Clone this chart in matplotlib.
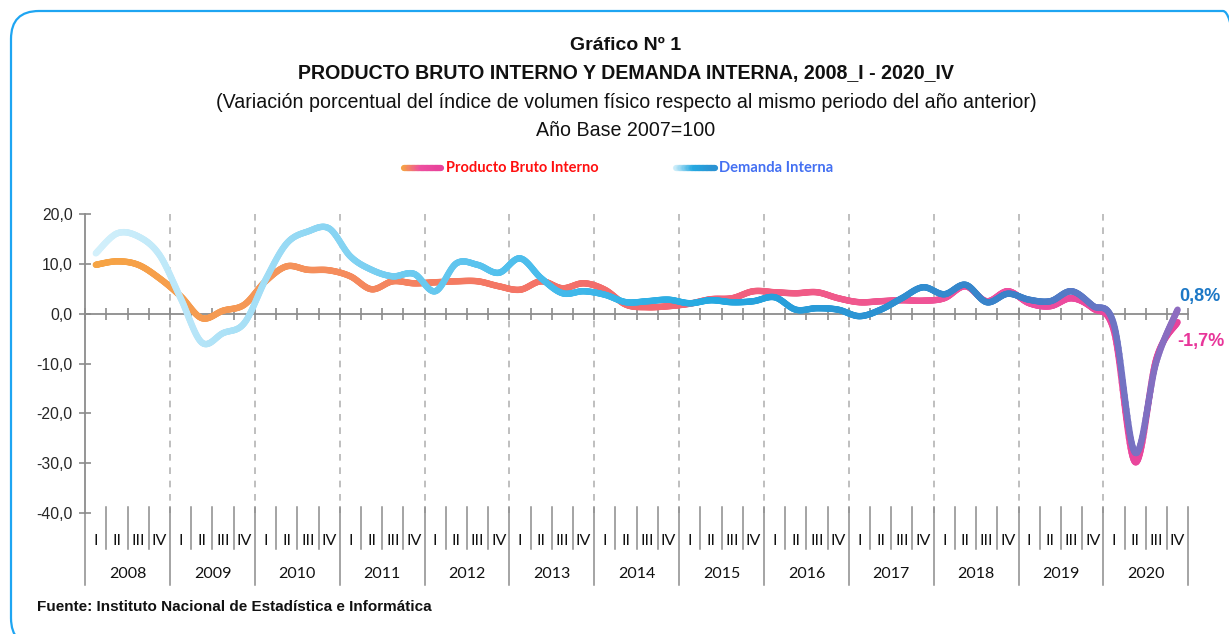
import numpy as np
import matplotlib.pyplot as plt
from matplotlib.collections import LineCollection
from matplotlib.colors import LinearSegmentedColormap
from matplotlib.patches import FancyBboxPatch
from matplotlib.transforms import IdentityTransform, blended_transform_factory

# datos trimestrales (variacion % respecto al mismo periodo del año anterior)
years = [str(y) for y in range(2008, 2021)]
quarters = ["I", "II", "III", "IV"]

pbi = [9.8, 10.5, 9.8, 7.1,
       3.5, -0.9, 0.6, 1.8,
       6.5, 9.5, 8.8, 8.7,
       7.5, 4.9, 6.5, 6.1,
       6.3, 6.5, 6.5, 5.5,
       4.8, 6.5, 5.1, 6.1,
       4.8, 1.8, 1.3, 1.5,
       2.0, 2.9, 3.1, 4.5,
       4.3, 4.1, 4.3, 3.1,
       2.3, 2.5, 2.7, 2.6,
       3.1, 5.5, 2.5, 4.5,
       2.1, 1.5, 3.1, 1.1,
       -3.5, -29.8, -9.0, -1.7]

demanda = [12.1, 16.1, 15.5, 11.8,
           3.1, -5.8, -3.9, -1.9,
           6.8, 14.1, 16.5, 17.1,
           11.5, 8.8, 7.5, 8.0,
           4.5, 10.1, 9.8, 8.2,
           11.1, 7.1, 4.1, 4.5,
           3.8, 2.3, 2.5, 2.8,
           2.1, 2.7, 2.3, 2.5,
           3.3, 0.8, 1.1, 0.8,
           -0.5, 0.8, 3.1, 5.3,
           3.9, 5.8, 2.3, 4.0,
           2.8, 2.5, 4.5, 1.6,
           -2.2, -27.9, -9.6, 0.8]

pbi_colors = ["#F6A443", "#F5955A", "#F47B62", "#F36A6E", "#F05A88", "#EE50A0", "#E8439B"]
dem_colors = ["#D3F0FB", "#A6DFF6", "#6ECBF0", "#44BAEB", "#25A9E1", "#2B93D3", "#3C80C8", "#8E6CC0"]


def smooth(x, y, n=24):
    # curva suavizada tipo Excel (bezier cardinal)
    x = np.asarray(x, float)
    y = np.asarray(y, float)
    px = np.concatenate([[x[0]], x, [x[-1]]])
    py = np.concatenate([[y[0]], y, [y[-1]]])
    xs, ys = [], []
    t = np.linspace(0, 1, n, endpoint=False)
    for i in range(1, len(px) - 2):
        p0 = np.array([px[i - 1], py[i - 1]])
        p1 = np.array([px[i], py[i]])
        p2 = np.array([px[i + 1], py[i + 1]])
        p3 = np.array([px[i + 2], py[i + 2]])
        c1 = p1 + (p2 - p0) / 6
        c2 = p2 - (p3 - p1) / 6
        b = ((1 - t) ** 3)[:, None] * p1 + (3 * (1 - t) ** 2 * t)[:, None] * c1 \
            + (3 * (1 - t) * t ** 2)[:, None] * c2 + (t ** 3)[:, None] * p2
        xs.append(b[:, 0])
        ys.append(b[:, 1])
    xs.append([x[-1]])
    ys.append([y[-1]])
    return np.concatenate(xs), np.concatenate(ys)


def gradient_line(ax, x, y, colors, lw, transform=None, z=3):
    cmap = LinearSegmentedColormap.from_list("g", colors)
    pts = np.column_stack([x, y]).reshape(-1, 1, 2)
    segs = np.concatenate([pts[:-1], pts[1:]], axis=1)
    pos = np.linspace(0, 1, len(segs))
    lc = LineCollection(segs, colors=cmap(pos), linewidths=lw, capstyle="round",
                        joinstyle="round", zorder=z)
    if transform is not None:
        lc.set_transform(transform)
    ax.add_collection(lc) if hasattr(ax, "add_collection") else ax.add_artist(lc)
    return lc


W, H = 1229, 634
fig = plt.figure(figsize=(W / 100, H / 100), dpi=100)
fig.patch.set_facecolor("white")

# marco redondeado
frame = FancyBboxPatch((11, -12), 1240, 634 - 11 + 12, boxstyle="round,pad=0,rounding_size=28",
                       transform=IdentityTransform(), fill=False, edgecolor="#1EA5F2", linewidth=1.6)
fig.add_artist(frame)

ax = fig.add_axes([85.2 / W, (H - 513) / H, (1188.2 - 85.2) / W, (513 - 214) / H])
n = len(pbi)
xq = np.arange(n)
ax.set_xlim(-0.5, n - 0.5)
ax.set_ylim(-40, 20)

grey = "#8C8C8C"
for s in ["top", "right"]:
    ax.spines[s].set_visible(False)
ax.spines["left"].set_color(grey)
ax.spines["left"].set_linewidth(1.3)
ax.spines["bottom"].set_position(("data", 0))
ax.spines["bottom"].set_color(grey)
ax.spines["bottom"].set_linewidth(1.3)

ax.set_yticks(np.arange(-40, 21, 10))
ax.set_yticklabels([f"{v:.1f}".replace(".", ",") for v in np.arange(-40, 21, 10)],
                   fontfamily="Liberation Sans", fontsize=11.3, color="#262626")
ax.tick_params(axis="y", direction="inout", length=8, width=1.2, color=grey, pad=5)
ax.set_xticks(np.arange(-0.5, n, 1.0))
ax.set_xticklabels([])
ax.tick_params(axis="x", direction="inout", length=8, width=1.2, color=grey)

# lineas punteadas por año
for k in range(1, len(years)):
    ax.plot([4 * k - 0.5] * 2, [20, -40], color="#B4B4B4", lw=1.2, ls=(0, (4, 4)), zorder=1)

# etiquetas de dos niveles
bt = blended_transform_factory(ax.transData, ax.transAxes)
for i in range(n):
    ax.text(i, -0.092, quarters[i % 4], transform=bt, ha="center", va="center",
            fontfamily="Lato", fontsize=11.5, color="#111111")
for k, yr in enumerate(years):
    ax.text(4 * k + 1.5, -0.203, yr, transform=bt, ha="center", va="center",
            fontfamily="Lato", fontsize=11.5, color="#111111")
for b in range(n + 1):
    xb = b - 0.5
    if b % 4 == 0:
        ax.plot([xb, xb], [0.02 if b else 0, -0.241], transform=bt, color=grey, lw=1.1, clip_on=False)
    else:
        ax.plot([xb, xb], [0.02, -0.12], transform=bt, color=grey, lw=1.1, clip_on=False)

# series
sx, sy = smooth(xq, pbi)
gradient_line(ax, sx, sy, pbi_colors, 4.6, z=3)
sx, sy = smooth(xq, demanda)
gradient_line(ax, sx, sy, dem_colors, 4.6, z=4)

ax.text(n - 1 + 0.1, demanda[-1] + 2.6, "0,8%", ha="left", va="center", fontfamily="Liberation Sans",
        fontweight="bold", fontsize=13, color="#1C78C6")
ax.text(n - 1 + 0.0, pbi[-1] - 3.8, "-1,7%", ha="left", va="center", fontfamily="Liberation Sans",
        fontweight="bold", fontsize=13, color="#E8369A")

# titulos
tf = "Liberation Sans"
fig.text(626 / W, 1 - 45 / H, "Gráfico Nº 1", ha="center", va="center", fontfamily=tf,
         fontweight="bold", fontsize=14, color="#111111")
fig.text(626 / W, 1 - 73 / H, "PRODUCTO BRUTO INTERNO Y DEMANDA INTERNA, 2008_I - 2020_IV", ha="center",
         va="center", fontfamily=tf, fontweight="bold", fontsize=14.1, color="#111111")
fig.text(626 / W, 1 - 103 / H, "(Variación porcentual del índice de volumen físico respecto al mismo periodo del año anterior)",
         ha="center", va="center", fontfamily=tf, fontsize=14.1, color="#111111")
fig.text(626 / W, 1 - 130 / H, "Año Base 2007=100", ha="center", va="center", fontfamily=tf,
         fontsize=14.1, color="#111111")

# leyenda
gradient_line(fig, np.linspace(404, 441, 30) / W, np.full(30, 1 - 168 / H), pbi_colors[:1] + pbi_colors[-2:],
              4.5, transform=fig.transFigure)
fig.text(446 / W, 1 - 168 / H, "Producto Bruto Interno", ha="left", va="center", fontfamily="Lato",
         fontweight="bold", fontsize=10.5, color="#FF1010")
gradient_line(fig, np.linspace(676, 715, 30) / W, np.full(30, 1 - 168 / H), dem_colors[:1] + dem_colors[4:6],
              4.5, transform=fig.transFigure)
fig.text(719 / W, 1 - 168 / H, "Demanda Interna", ha="left", va="center", fontfamily="Lato",
         fontweight="bold", fontsize=10.6, color="#4470F2")

fig.text(37 / W, 1 - 607 / H, "Fuente: Instituto Nacional de Estadística e Informática", ha="left", va="center",
         fontfamily=tf, fontweight="bold", fontsize=11, color="#111111")

fig.savefig("out.png", dpi=100)
